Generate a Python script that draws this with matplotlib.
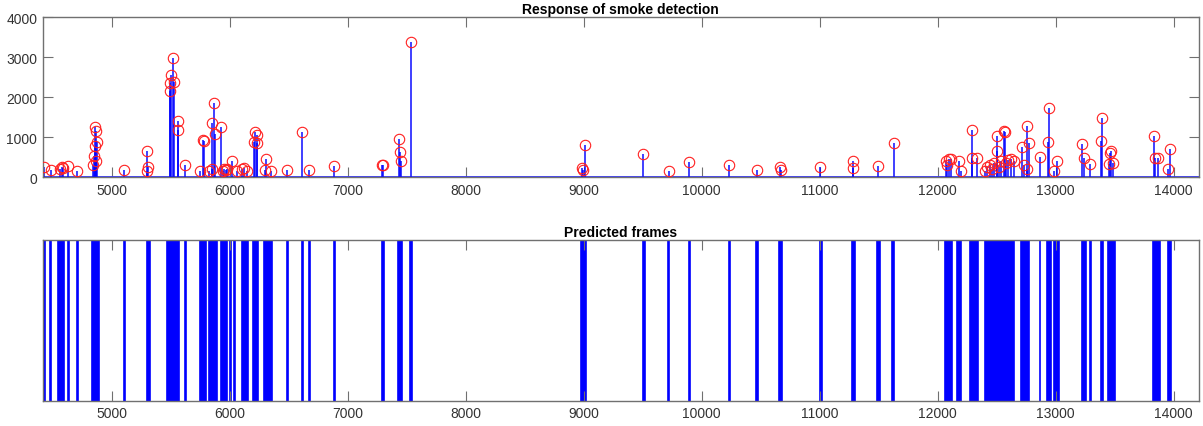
import matplotlib.pyplot as plt

# detected peaks of the smoke response (frame, response)
peak_frames = [
    4426, 4483, 4560, 4575, 4590, 4632, 4708, 4840, 4852, 4856, 4860, 4866, 4868, 4872,
    5104, 5297, 5300, 5310, 5490, 5495, 5500, 5522, 5528, 5562, 5565, 5622, 5749, 5777,
    5785, 5828, 5848, 5850, 5868, 5876, 5927, 5945, 5955, 5965, 5980, 6018, 6060, 6100,
    6120, 6145, 6207, 6215, 6230, 6235, 6300, 6306, 6350, 6489, 6611, 6673, 6885, 7290,
    7300, 7435, 7440, 7448, 7538, 8986, 8990, 9008, 9505, 9723, 9895, 10229, 10466, 10661,
    10668, 11006, 11280, 11284, 11492, 11628, 12072, 12080, 12094, 12110, 12180, 12200,
    12287, 12290, 12335, 12400, 12420, 12440, 12460, 12480, 12499, 12505, 12520, 12540,
    12560, 12570, 12580, 12600, 12620, 12650, 12717, 12735, 12753, 12760, 12770, 12866,
    12938, 12942, 12985, 13013, 13225, 13240, 13290, 13385, 13389, 13455, 13460, 13470,
    13490, 13833, 13840, 13870, 13955, 13969,
]
peak_values = [
    242, 183, 200, 240, 230, 267, 158, 300, 533, 767, 1242, 400, 1158, 883,
    167, 642, 150, 242, 2158, 2350, 2550, 2975, 2367, 1183, 1408, 308, 158, 933,
    900, 150, 1350, 200, 1850, 1075, 1242, 150, 200, 180, 200, 408, 150, 200,
    230, 150, 867, 1117, 1050, 850, 175, 450, 150, 183, 1133, 183, 267, 300,
    310, 950, 617, 408, 3367, 217, 180, 800, 567, 150, 367, 300, 167, 242,
    170, 242, 225, 392, 283, 850, 392, 300, 450, 460, 400, 150,
    1175, 475, 475, 150, 250, 300, 200, 350, 1033, 650, 250, 400,
    1142, 1130, 350, 420, 450, 400, 742, 300, 1267, 200, 850, 508,
    875, 1733, 150, 408, 825, 480, 320, 900, 1475, 330, 600, 650,
    350, 1017, 480, 480, 200, 700,
]

# predicted frame ranges (start, end)
pred_starts = [
    4420, 4477, 4547, 4632, 4708, 4835, 5104, 5297, 5471, 5622, 5749, 5828, 5924, 6003,
    6038, 6105, 6196, 6294, 6484, 6610, 6668, 6885, 7292, 7425, 7530, 8980, 9503, 9715,
    9890, 10229, 10461, 10653, 11004, 11275, 11484, 11614, 12066, 12160, 12278, 12397,
    12708, 12864, 12929, 12985, 13225, 13290, 13381, 13442, 13828, 13955,
]
pred_ends = [
    4432, 4485, 4596, 4640, 4717, 4892, 5113, 5325, 5571, 5630, 5797, 5896, 5980, 6012,
    6046, 6158, 6243, 6357, 6495, 6620, 6680, 6896, 7305, 7462, 7549, 9022, 9517, 9726,
    9900, 10243, 10475, 10682, 11023, 11297, 11507, 11634, 12123, 12194, 12340, 12651,
    12776, 12870, 12957, 13027, 13253, 13300, 13403, 13499, 13884, 13974,
]

XLIM = (4415, 14215)
XTICKS = [5000, 6000, 7000, 8000, 9000, 10000, 11000, 12000, 13000, 14000]

plt.rcParams["font.family"] = ["Liberation Sans", "DejaVu Sans"]
AX_COLOR = "#707070"
TXT_COLOR = "#333333"


def style_axes(ax):
    for s in ax.spines.values():
        s.set_color(AX_COLOR)
        s.set_linewidth(1.0)
    ax.tick_params(direction="in", length=7, width=0.8, color=AX_COLOR,
                   labelcolor=TXT_COLOR, labelsize=10, top=True, right=True, pad=4)
    ax.set_xlim(*XLIM)
    ax.set_xticks(XTICKS)


fig = plt.figure(figsize=(12.03, 4.27), dpi=100)
ax1 = fig.add_axes([0.0355, 0.5831, 0.9612, 0.3747])
ax2 = fig.add_axes([0.0355, 0.0593, 0.9612, 0.3763])

# top: response with peaks
ax1.axhline(0, color="#3030ff", linewidth=1.3, zorder=2)
ax1.vlines(peak_frames, 0, peak_values, colors="#0000ff", linewidth=1.4, alpha=0.75, zorder=2)
ax1.plot(peak_frames, peak_values, "o", markersize=7.5, markerfacecolor="none",
         markeredgecolor="#ff2020", markeredgewidth=0.8, zorder=3)
ax1.set_ylim(0, 4000)
ax1.set_yticks([0, 1000, 2000, 3000, 4000])
style_axes(ax1)
ax1.set_title("Response of smoke detection", fontsize=10, fontweight="bold", pad=3)

# bottom: predicted frames
widths = [e - s for s, e in zip(pred_starts, pred_ends)]
ax2.bar(pred_starts, [1] * len(pred_starts), width=widths, align="edge",
        color="#0000ff", edgecolor="#0000ff", linewidth=1.2)
ax2.set_ylim(0, 1)
ax2.set_yticks([])
style_axes(ax2)
ax2.set_title("Predicted frames", fontsize=10, fontweight="bold", pad=3)

fig.savefig("out.png", dpi=100)
